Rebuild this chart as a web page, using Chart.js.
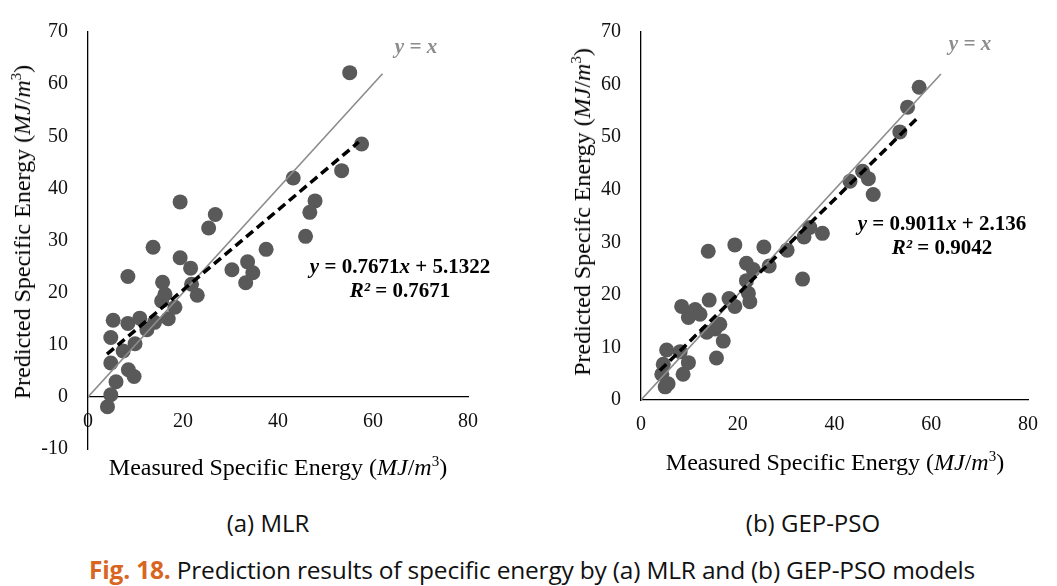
<!DOCTYPE html>
<html>
<head>
<meta charset="utf-8">
<script src="https://cdn.jsdelivr.net/npm/chart.js@4.4.1/dist/chart.umd.min.js"></script>
<style>
  body { margin: 0; background: #fff; }
  #wrap { position: relative; width: 1057px; height: 586px; overflow: hidden; }
  canvas { position: absolute; top: 0; }
  .txt { position: absolute; white-space: nowrap; font-family: "Liberation Serif", serif; color: #000; }
  .ytitle { transform: translate(-50%, -50%) rotate(-90deg); font-size: 24px; }
  .xtitle { transform: translate(-50%, -50%); font-size: 24px; }
  .eq { transform: translate(-50%, -50%); font-size: 21px; font-weight: bold; text-align: center; line-height: 24px; }
  .yx { transform: translate(-50%, -50%); font-size: 21px; font-style: italic; font-weight: bold; color: #8c8c8c; }
  .cap { position: absolute; white-space: nowrap; font-family: "Open Sans", sans-serif; transform: translate(-50%, -50%); color: #111; }
</style>
</head>
<body>
<div id="wrap">
  <canvas id="mlrChart" width="528" height="490" style="left:0"></canvas>
  <canvas id="gepChart" width="529" height="490" style="left:528px"></canvas>

  <div class="txt ytitle" style="left:22px; top:232px;">Predicted Specific Energy (<i>MJ</i>/<i>m</i><sup style="font-size:15px">3</sup>)</div>
  <div class="txt xtitle" style="left:278px; top:467px;">Measured Specific Energy (<i>MJ</i>/<i>m</i><sup style="font-size:15px">3</sup>)</div>
  <div class="txt yx" style="left:416px; top:46px;">y = x</div>
  <div class="txt eq" style="left:400px; top:278px;"><i>y</i> = 0.7671<i>x</i> + 5.1322<br><i>R²</i> = 0.7671</div>

  <div class="txt ytitle" style="left:582px; top:212px;">Predicted Specifc Energy (<i>MJ</i>/<i>m</i><sup style="font-size:15px">3</sup>)</div>
  <div class="txt xtitle" style="left:835px; top:462px;">Measured Specific Energy (<i>MJ</i>/<i>m</i><sup style="font-size:15px">3</sup>)</div>
  <div class="txt yx" style="left:970px; top:43px;">y = x</div>
  <div class="txt eq" style="left:942px; top:235px;"><i>y</i> = 0.9011<i>x</i> + 2.136<br><i>R²</i> = 0.9042</div>

  <div class="cap" style="left:268px; top:522px; font-size:24px;">(a) MLR</div>
  <div class="cap" style="left:813px; top:522px; font-size:24px;">(b) GEP-PSO</div>
  <div class="cap" style="left:532px; top:569px; font-size:24.5px; letter-spacing:-0.2px;"><b style="color:#d9661f">Fig. 18.</b> Prediction results of specific energy by (a) MLR and (b) GEP-PSO models</div>
</div>

<script>
// (a) MLR: measured vs predicted
const mlrMeasured = [55.1, 57.6, 53.4, 43.2, 19.4, 47.8, 46.7, 26.8, 25.4, 45.8,
  13.7, 37.5, 19.4, 33.6, 21.6, 30.3, 34.7, 33.2, 8.4, 15.7,
  21.8, 23.0, 16.2, 15.5, 18.3, 16.9, 14.0, 12.4, 5.3, 8.4,
  10.9, 4.8, 7.4, 9.9, 4.8, 8.5, 9.7, 5.9, 4.8, 4.1];
const mlrPredicted = [62.2, 48.5, 43.4, 42.0, 37.4, 37.6, 35.4, 35.0, 32.4, 30.8,
  28.7, 28.3, 26.7, 25.9, 24.7, 24.4, 23.8, 21.9, 23.1, 22.0,
  21.6, 19.5, 19.7, 18.4, 17.2, 15.0, 14.3, 12.9, 14.7, 14.1,
  15.1, 11.4, 8.8, 10.2, 6.5, 5.2, 3.9, 2.9, 0.4, -1.9];

// (b) GEP-PSO: measured vs predicted
const gepMeasured = [57.5, 55.1, 53.5, 45.8, 47.0, 43.2, 48.0, 37.5, 34.9, 33.7,
  33.4, 30.2, 25.4, 19.4, 13.9, 26.5, 21.8, 23.2, 21.8, 22.2,
  22.5, 18.2, 19.4, 14.1, 8.4, 11.2, 12.2, 9.8, 16.3, 15.3,
  13.6, 17.0, 15.6, 5.3, 8.1, 9.8, 8.7, 4.6, 4.3, 5.6, 5.0];
const gepPredicted = [59.5, 55.7, 51.0, 43.5, 42.1, 41.6, 39.1, 31.7, 32.8, 31.0,
  23.0, 28.5, 29.1, 29.5, 28.3, 25.5, 26.0, 24.8, 22.7, 20.3,
  18.7, 19.3, 17.8, 19.0, 17.8, 17.2, 16.3, 15.7, 14.4, 13.5,
  12.9, 11.2, 8.0, 9.5, 9.2, 7.1, 4.9, 6.8, 4.9, 3.1, 2.5];

// trendline end points and y = x reference line
const mlrTrend = [[4.0, 8.2], [57.0, 48.9]];
const gepTrend = [[3.9, 5.6], [57.0, 53.5]];
const identityLine = [[0, 0], [62, 62]];

const xTicks = [0, 20, 40, 60, 80];

const toPoints = (xs, ys) => xs.map((x, i) => ({ x: x, y: ys[i] }));
const toXY = pairs => pairs.map(p => ({ x: p[0], y: p[1] }));

function makeChart(id, xs, ys, trend, yMin, area) {
  const tickFont = { family: 'Liberation Serif', size: 20 };
  return new Chart(document.getElementById(id), {
    type: 'scatter',
    data: {
      datasets: [
        {
          data: toPoints(xs, ys),
          backgroundColor: '#595959',
          borderWidth: 0,
          pointRadius: 7.5,
          order: 3
        },
        {
          data: toXY(identityLine),
          showLine: true,
          borderColor: '#8c8c8c',
          borderWidth: 1.6,
          pointRadius: 0,
          order: 2
        },
        {
          data: toXY(trend),
          showLine: true,
          borderColor: '#000',
          borderWidth: 3.5,
          borderDash: [9, 5],
          pointRadius: 0,
          order: 1
        }
      ]
    },
    options: {
      responsive: false,
      animation: false,
      events: [],
      layout: { padding: { left: 0, top: area.top, right: area.right, bottom: area.bottom } },
      plugins: { legend: { display: false }, tooltip: { enabled: false } },
      scales: {
        x: {
          type: 'linear',
          min: 0,
          max: 80,
          position: yMin < 0 ? { y: 0 } : 'bottom',
          afterFit: s => { s.height = area.xHeight; },
          afterBuildTicks: s => { s.ticks = xTicks.map(v => ({ value: v })); },
          grid: { display: false, drawTicks: false },
          border: { color: '#000', width: 1.3 },
          ticks: { color: '#111', font: tickFont, padding: 13, maxRotation: 0 }
        },
        y: {
          type: 'linear',
          min: yMin,
          max: 70,
          afterFit: s => { s.width = area.left; },
          grid: { display: false, drawTicks: false },
          border: { color: '#000', width: 1.3 },
          ticks: { color: '#111', font: tickFont, stepSize: 10, padding: 20 }
        }
      }
    }
  });
}

makeChart('mlrChart', mlrMeasured, mlrPredicted, mlrTrend, -10,
  { left: 88, top: 19, right: 60, bottom: 41, xHeight: 0 });
makeChart('gepChart', gepMeasured, gepPredicted, gepTrend, 0,
  { left: 113, top: 20, right: 29, bottom: 54, xHeight: 36 });
</script>
</body>
</html>
